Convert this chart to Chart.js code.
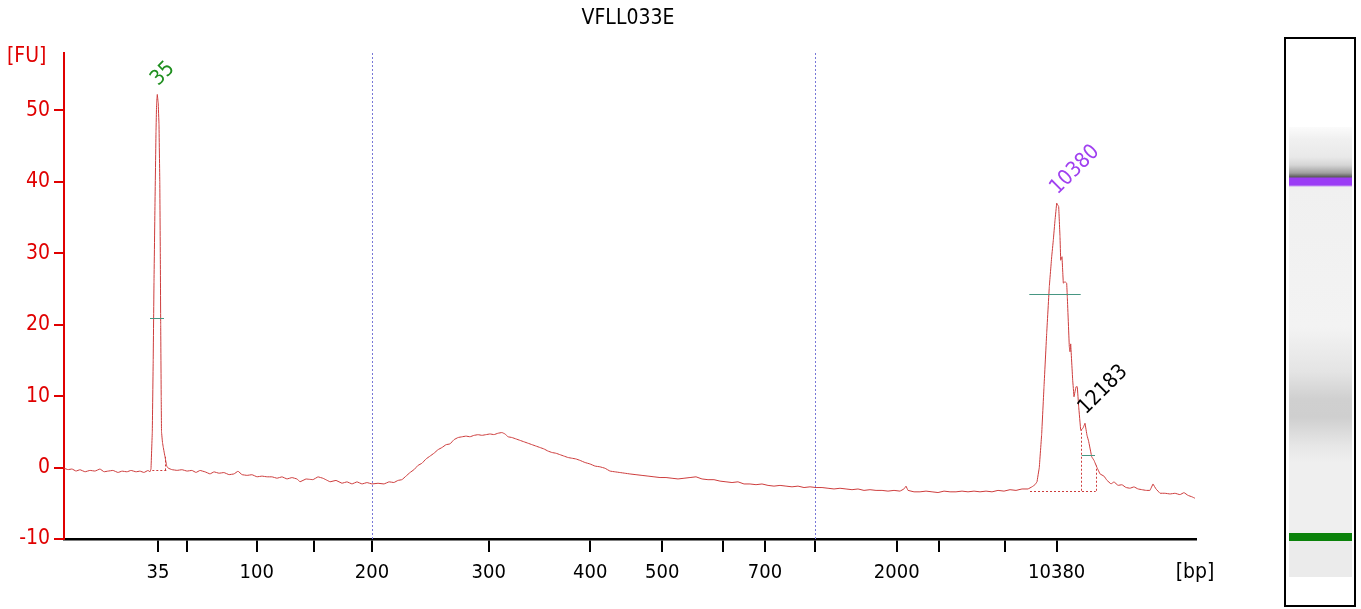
<!DOCTYPE html>
<html><head><meta charset="utf-8">
<script src="https://cdn.jsdelivr.net/npm/chart.js@4.4.1/dist/chart.umd.min.js"></script>
<style>
html,body{margin:0;padding:0;background:#fff;width:1361px;height:609px;overflow:hidden}
#wrap{position:absolute;left:0;top:0;width:1361px;height:609px}
#title{position:absolute;left:0;width:1256px;top:5px;text-align:center;font:21px "DejaVu Sans Condensed","DejaVu Sans",sans-serif;color:#000}
#gelbox{position:absolute;left:1284px;top:37px;width:72px;height:570px;box-sizing:border-box;border:2px solid #000;background:#fff}
#lane{position:absolute;left:1289px;top:127px;width:63px;height:450px;
background:linear-gradient(to bottom,#fbfbfb 0px,#f0f0f0 12px,#e9e9e9 30px,#d6d6d6 38px,#a0a0a0 46px,#5a5a5a 50px,#9b3cf5 51px,#9b3cf5 58px,#f0f0f0 60px,#f3f3f3 200px,#e4e4e4 245px,#d0d0d0 272px,#cfcfcf 290px,#e6e6e6 318px,#efefef 335px,#efefef 406px,#0a820a 406px,#0a820a 414px,#ebebeb 414px,#ebebeb 450px)}
</style></head>
<body>
<div id="wrap"><canvas id="c" width="1361" height="609"></canvas></div>
<div id="title">VFLL033E</div>
<div id="gelbox"></div>
<div id="lane"></div>
<script>
// x axis: migration position units; tick labels in bp
const tickPositions = [94, 122.5, 192.7, 250.4, 308, 424.7, 526.2, 598.2, 659.3, 701, 751, 832.7, 875.3, 941, 992.7];
const tickLabels = ['35','','100','','200','300','400','500','','700','','2000','','','10380'];
const yTicks = [-10, 0, 10, 20, 30, 40, 50];
const regionMarkers = [308, 751];

const traceX = [0,4,8,12,16,21,26,31,36,40,44,49,54,58,63,67,72,76,80,84,86,
87,88.3,89.2,90,91,92,92.6,93.3,94.2,95,95.8,96.3,96.7,97.2,97.5,98.5,99.3,101,102.7,104.3,
108,113,118,123,128,132,136,141,146,150,155,160,165,170,174,178,183,188,193,198,203,208,213,218,223,228,233,236,242,249,254,259,266,272,278,283,288,293,298,303,308,314,320,325,330,334,338,342,346,350,354,358,362,366,370,374,378,382,386,390,394,398,402,406,410,414,418,422,426,430,434,438,441,444,448,452,456,460,464,468,472,476,480,484,488,492,496,500,504,508,512,516,521,526,531,536,541,546,551,556,561,566,572,578,584,590,596,602,608,614,620,626,632,638,644,650,656,662,668,674,680,686,692,698,704,710,716,722,728,734,740,746,752,758,764,770,776,782,788,794,800,806,812,818,824,830,836,840,842,844,850,856,862,868,874,880,886,892,898,904,910,916,922,928,934,940,946,952,958,964,968,971,973,
975.3,977.7,980,982.7,985.3,987.7,989.3,991,992.7,994.7,996,996.7,998,999.3,1001,1002.7,1003.3,1005.3,1006,1006.7,1008.7,1010,1012,1013.3,1014.7,1016.7,1019,1021,1023,1024.6,1027.7,1030,1033,1036,1040,1043,1047,1050,1054,1058,1062,1066,1070,1074,1078,1082,1086,1089,1092,1096,1101,1106,1111,1116,1120,1124,1128,1131];
const traceY = [-0.1,-0.3,-0.2,-0.5,-0.3,-0.6,-0.4,-0.5,-0.2,-0.6,-0.5,-0.4,-0.7,-0.5,-0.6,-0.4,-0.6,-0.5,-0.7,-0.4,-0.6,
-0.2,5,15,26,37,47,51,52.2,51,48,40,30,20,10,5,3.5,2.8,1.5,0.2,-0.1,
-0.3,-0.4,-0.3,-0.5,-0.4,-0.7,-0.4,-0.6,-0.9,-0.6,-0.8,-0.7,-1.0,-0.9,-0.5,-1.0,-1.1,-1.0,-1.3,-1.2,-1.3,-1.3,-1.5,-1.3,-1.6,-1.4,-1.6,-2.0,-1.6,-1.7,-1.3,-1.5,-2.0,-1.8,-2.2,-2.0,-2.3,-2.0,-2.3,-2.1,-2.3,-2.2,-2.3,-2.0,-2.1,-1.8,-1.7,-1.2,-0.7,-0.3,0.3,0.6,1.2,1.6,2.0,2.5,2.8,3.2,3.3,3.9,4.2,4.3,4.4,4.3,4.5,4.6,4.5,4.6,4.7,4.6,4.8,4.9,4.7,4.3,4.2,4.0,3.8,3.6,3.4,3.2,3.0,2.8,2.6,2.3,2.1,2.0,1.8,1.6,1.4,1.3,1.2,1.0,0.7,0.5,0.2,0.1,-0.1,-0.5,-0.6,-0.7,-0.8,-0.9,-1.0,-1.1,-1.2,-1.3,-1.4,-1.4,-1.5,-1.6,-1.5,-1.4,-1.3,-1.6,-1.7,-1.7,-1.9,-2.0,-2.1,-2.0,-2.3,-2.3,-2.4,-2.3,-2.5,-2.6,-2.5,-2.6,-2.7,-2.6,-2.8,-2.7,-2.8,-2.8,-2.9,-3.0,-2.9,-3.0,-3.1,-3.0,-3.2,-3.1,-3.2,-3.2,-3.3,-3.2,-3.3,-3.0,-2.6,-3.2,-3.4,-3.4,-3.3,-3.4,-3.5,-3.3,-3.4,-3.4,-3.3,-3.4,-3.3,-3.4,-3.3,-3.4,-3.2,-3.3,-3.1,-3.2,-3.0,-3.0,-2.7,-2.4,-2.0,
0.0,4.7,11.3,18.8,25.3,29.5,31.8,34.6,37.0,36.5,32.3,29.0,29.5,25.8,26.0,25.8,23.9,16.9,16.2,17.3,12.2,9.9,11.3,11.3,8.5,5.2,5.5,6.2,4.5,3.7,1.5,1.0,0.0,-0.9,-1.2,-1.8,-2.3,-2.0,-2.5,-2.4,-2.8,-2.9,-2.7,-3.0,-3.1,-3.2,-3.2,-2.3,-3.0,-3.6,-3.6,-3.7,-3.6,-3.8,-3.5,-3.9,-4.1,-4.3];

// peak annotations
const peakLabels = [
  {text:'35', x:93.3, y:52.2, color:'#1f8f1f'},
  {text:'10380', x:992.7, y:37, color:'#a040f0'},
  {text:'12183', x:1021, y:6.2, color:'#000000'}
];
const halfHeightLines = [
  {x1:86, x2:100, y:20.9},
  {x1:965.3, x2:1016.7, y:24.3},
  {x1:1017.7, x2:1031, y:1.8}
];
const baselineLines = [
  {x1:88.3, x2:102.7, y:-0.4},
  {x1:966, x2:1031.7, y:-3.25}
];
const peakBounds = [
  {x:101, y1:-0.4, y2:1.5},
  {x:1017, y1:-3.25, y2:5.3},
  {x:1031.7, y1:-3.25, y2:0.3}
];

const FONT = '"DejaVu Sans Condensed","DejaVu Sans",sans-serif';
const TRACE = 'rgb(205,60,60)';

const annot = {
  id:'annot',
  beforeDatasetsDraw(chart){
    const {ctx, chartArea:a, scales:{x}} = chart;
    ctx.save();
    ctx.strokeStyle = 'rgb(120,120,215)';
    ctx.lineWidth = 1;
    ctx.setLineDash([2,2]);
    regionMarkers.forEach(v=>{
      const px = Math.round(x.getPixelForValue(v))+0.5;
      ctx.beginPath(); ctx.moveTo(px,a.top); ctx.lineTo(px,a.bottom); ctx.stroke();
    });
    ctx.restore();
  },
  afterDatasetsDraw(chart){
    const {ctx, chartArea:a, scales:{x,y}} = chart;
    ctx.save();
    ctx.strokeStyle = TRACE; ctx.lineWidth = 1; ctx.setLineDash([2,2]);
    baselineLines.forEach(l=>{
      const py = Math.round(y.getPixelForValue(l.y))+0.5;
      ctx.beginPath(); ctx.moveTo(x.getPixelForValue(l.x1),py); ctx.lineTo(x.getPixelForValue(l.x2),py); ctx.stroke();
    });
    peakBounds.forEach(l=>{
      const px = Math.round(x.getPixelForValue(l.x))+0.5;
      ctx.beginPath(); ctx.moveTo(px,y.getPixelForValue(l.y1)); ctx.lineTo(px,y.getPixelForValue(l.y2)); ctx.stroke();
    });
    ctx.setLineDash([]);
    ctx.strokeStyle = 'rgb(70,150,130)';
    halfHeightLines.forEach(l=>{
      const py = Math.round(y.getPixelForValue(l.y))+0.5;
      ctx.beginPath(); ctx.moveTo(x.getPixelForValue(l.x1),py); ctx.lineTo(x.getPixelForValue(l.x2),py); ctx.stroke();
    });
    ctx.font = '21px '+FONT;
    ctx.textAlign = 'left'; ctx.textBaseline = 'middle';
    peakLabels.forEach(p=>{
      ctx.save();
      ctx.translate(x.getPixelForValue(p.x)-3, y.getPixelForValue(p.y)-12);
      ctx.rotate(-Math.PI/4);
      ctx.fillStyle = p.color;
      ctx.fillText(p.text,0,0);
      ctx.restore();
    });
    // axis unit labels
    ctx.fillStyle = '#e00000';
    ctx.textAlign = 'left'; ctx.textBaseline = 'middle';
    ctx.fillText('[FU]', 7, 57);
    ctx.fillStyle = '#000';
    ctx.textAlign = 'center';
    ctx.fillText('[bp]', 1195, 573);
    ctx.restore();
  }
};

new Chart(document.getElementById('c'), {
  type:'line',
  data:{datasets:[{
    data: traceX.map((v,i)=>({x:v, y:traceY[i]})),
    borderColor: TRACE, borderWidth:1, pointRadius:0, tension:0.0001, fill:false
  }]},
  options:{
    responsive:false, animation:false,
    layout:{padding:{left:0, right:165, top:53, bottom:0}},
    plugins:{legend:{display:false}, tooltip:{enabled:false}, title:{display:false}},
    scales:{
      x:{type:'linear', min:0, max:1132,
        afterBuildTicks(s){ s.ticks = tickPositions.map(v=>({value:v})); },
        afterFit(s){ s.height = 70; },
        ticks:{autoSkip:false, maxRotation:0, color:'#000', font:{family:FONT, size:20}, padding:9,
          callback(v,i){ return tickLabels[i]; }},
        grid:{drawOnChartArea:false, tickLength:13, color:'#000', tickColor:'#000', lineWidth:2},
        border:{color:'#000', width:2.5}
      },
      y:{type:'linear', min:-10, max:58,
        afterBuildTicks(s){ s.ticks = yTicks.map(v=>({value:v})); },
        afterFit(s){ s.width = 64; },
        ticks:{color:'#e00000', font:{family:FONT, size:21}, padding:4},
        grid:{drawOnChartArea:false, tickLength:10, color:'#e00000', tickColor:'#e00000', lineWidth:2},
        border:{color:'#e00000', width:2}
      }
    }
  },
  plugins:[annot]
});
</script>
</body></html>
